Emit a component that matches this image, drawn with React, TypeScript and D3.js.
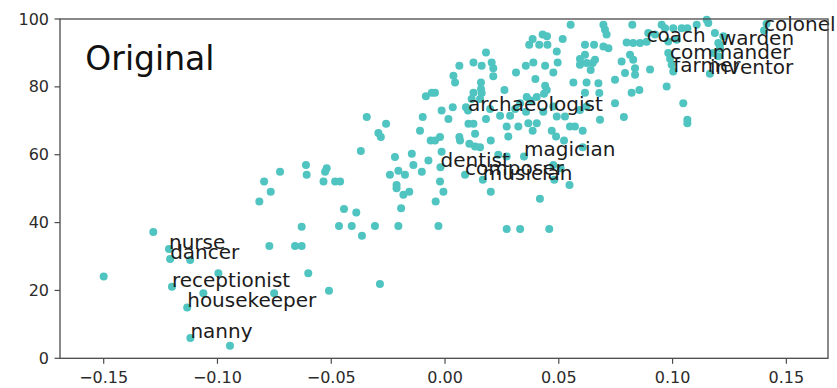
import React from "react";
import * as d3 from "d3";

// Occupation scores: x = projection onto the gender direction, y = score
const pointsX: number[] = [
  -0.150, -0.112, -0.0996, -0.1062, -0.0945, -0.0751, -0.1282, -0.0816, -0.0795, -0.0766,
  -0.0725, -0.0772, -0.0659, -0.063, -0.063, -0.0601, -0.051, -0.0286, -0.0611, -0.0608,
  -0.052, -0.0527, -0.0534, -0.0483, -0.0461, -0.0444, -0.039, -0.0466, -0.041, -0.0308,
  -0.0205, -0.0365, -0.037, -0.022, -0.0146, -0.0139, -0.0073, -0.0102, -0.0205, -0.0176,
  -0.0242, -0.0213, -0.0213, -0.0157, -0.0183, -0.0193, -0.0022, -0.0007, -0.0041, -0.0029,
  0.0201, 0.0271, 0.033, 0.0417, 0.0458, -0.0259, -0.0293, -0.0282, -0.011, -0.0063,
  -0.0044, -0.0022, -0.0015, 0.0063, 0.0066, 0.0107, 0.0132, 0.0154, 0.0103, 0.0125,
  0.0132, 0.0201, 0.0271, 0.0278, 0.0322, 0.0385, 0.0469, 0.0488, 0.0523, 0.0605,
  0.0605, 0.0476, 0.0508, 0.048, 0.0547, 0.0234, 0.0271, -0.0344, -0.0098, -0.0084,
  -0.0058, -0.0044, -0.0015, 0.0034, 0.0015, 0.0037, 0.0044, 0.0063, 0.0125, 0.0161,
  0.018, 0.0205, 0.0212, 0.0212, 0.0158, 0.0158, 0.0125, 0.0161, 0.0117, 0.0154,
  0.0092, 0.0261, 0.0312, 0.0355, 0.0388, 0.0397, 0.044, 0.0476, 0.037, 0.0385,
  0.0414, 0.0429, 0.045, 0.0491, 0.044, 0.0447, 0.0435, 0.0359, 0.0377, 0.033,
  0.0495, 0.0552, 0.0517, 0.0615, 0.0655, 0.0593, 0.0615, 0.0622, 0.0649, 0.0659,
  0.064, 0.0564, 0.0622, 0.0615, 0.0674, 0.0678, 0.0198, 0.0242, 0.0286, 0.0308,
  0.0432, 0.0476, 0.0491, 0.0527, 0.0593, 0.0622, 0.0681, 0.0366, 0.0403, 0.0549,
  0.0571, 0.018, 0.0403, 0.0356, 0.0696, 0.0703, 0.071, 0.0696, 0.0718, 0.0823,
  0.0952, 0.0967, 0.1003, 0.104, 0.1065, 0.1106, 0.115, 0.1157, 0.0923, 0.0981,
  0.1018, 0.0827, 0.0857, 0.0798, 0.1186, 0.1223, 0.1413, 0.1201, 0.1208, 0.1179,
  0.1201, 0.0981, 0.0996, 0.0776, 0.0791, 0.0827, 0.0835, 0.0835, 0.0901, 0.0813,
  0.0747, 0.082, 0.0854, 0.0974, 0.0747, 0.0786, 0.1047, 0.1065, 0.1065, 0.0893,
  0.0593, 0.0448,
];

const pointsY: number[] = [
  24.1, 29.0, 25.1, 19.2, 3.7, 19.2, 37.2, 46.2, 52.1, 49.1,
  55.0, 33.1, 33.1, 33.1, 38.8, 25.1, 19.9, 21.9, 57.0, 54.1,
  56.0, 55.0, 52.1, 52.1, 52.1, 44.0, 43.0, 39.0, 39.0, 39.0,
  39.0, 36.1, 61.1, 59.3, 60.3, 57.0, 58.3, 55.0, 55.3, 54.1,
  54.1, 51.1, 50.1, 49.1, 48.2, 44.2, 52.1, 49.1, 46.2, 39.0,
  49.1, 38.1, 38.1, 47.0, 38.1, 69.1, 66.4, 65.2, 67.1, 64.2,
  64.2, 65.2, 60.9, 65.2, 64.2, 63.2, 62.4, 62.2, 69.1, 69.1,
  66.2, 64.2, 68.3, 65.4, 68.3, 67.1, 67.1, 65.4, 64.2, 67.1,
  62.2, 57.0, 56.0, 52.6, 51.1, 60.0, 59.5, 71.1, 71.1, 77.2,
  78.3, 78.3, 73.0, 74.0, 70.5, 83.3, 81.3, 86.2, 87.2, 86.2,
  90.1, 87.2, 85.5, 83.1, 81.3, 79.4, 78.3, 78.2, 76.4, 76.4,
  74.0, 79.1, 84.2, 86.2, 87.2, 82.3, 86.2, 84.2, 92.4, 94.1,
  92.4, 95.4, 92.4, 90.4, 80.3, 79.1, 78.0, 77.0, 76.0, 75.2,
  87.2, 98.3, 94.1, 92.4, 92.4, 88.2, 89.5, 87.0, 87.0, 88.0,
  85.0, 81.3, 81.3, 78.3, 81.1, 78.2, 73.5, 71.5, 71.5, 73.5,
  72.7, 74.2, 71.3, 71.3, 73.2, 74.2, 70.3, 69.3, 69.3, 68.3,
  68.3, 70.5, 77.0, 72.7, 98.3, 96.8, 95.4, 91.9, 91.4, 98.3,
  98.3, 97.3, 97.3, 97.3, 97.3, 98.3, 99.8, 98.8, 95.4, 93.4,
  93.9, 92.9, 92.9, 93.1, 95.9, 94.9, 98.6, 92.9, 91.4, 90.0,
  89.0, 90.0, 86.5, 87.5, 84.1, 88.0, 85.5, 83.6, 85.1, 89.5,
  82.1, 78.3, 79.1, 80.1, 75.2, 71.1, 75.2, 70.3, 69.3, 95.9,
  86.5, 94.9,
];

// Named occupations, each drawn as a point with its label
const labelNames: string[] = [
  "nurse", "dancer", "receptionist", "housekeeper", "nanny",
  "archaeologist", "dentist", "magician", "composer", "musician",
  "coach", "warden", "commander", "farmer", "inventor", "colonel",
];
const labelX: number[] = [
  -0.1213, -0.1208, -0.120, -0.1133, -0.1119,
  0.0101, -0.002, 0.0347, 0.0088, 0.0166,
  0.0886, 0.1208, 0.0989, 0.1003, 0.1164, 0.1402,
];
const labelY: number[] = [
  32.2, 29.3, 21.1, 15.0, 6.0,
  73.0, 56.3, 59.5, 54.1, 52.6,
  93.3, 92.4, 88.3, 84.5, 83.9, 96.6,
];

const xTicks: number[] = [-0.15, -0.1, -0.05, 0, 0.05, 0.1, 0.15];
const yTicks: number[] = [0, 20, 40, 60, 80, 100];
const title = "Original";

const W = 837;
const H = 388;
const left = 60;
const right = 828;
const top = 19;
const bottom = 358.3;

const FONT = "'DejaVu Sans', sans-serif";
const DOT = "#4fc4c0";
const AXIS = "#4a4a4a";

export default function App() {
  const x = d3.scaleLinear().domain([-0.1692, 0.1683]).range([left, right]);
  const y = d3.scaleLinear().domain([0, 100]).range([bottom, top]);
  const fmtX = (v: number) => d3.format(".2f")(v).replace("-", "\u2212");

  return (
    <svg
      width={W}
      height={H}
      viewBox={`0 0 ${W} ${H}`}
      style={{ position: "absolute", left: 0, top: 0, background: "#ffffff" }}
    >
      {/* points */}
      <g>
        {pointsX.map((v, i) => (
          <circle key={`p${i}`} cx={x(v)} cy={y(pointsY[i])} r={4} fill={DOT} />
        ))}
        {labelX.map((v, i) => (
          <circle key={`lp${i}`} cx={x(v)} cy={y(labelY[i])} r={4} fill={DOT} />
        ))}
      </g>

      {/* labels */}
      <g fontFamily={FONT} fontSize={20} fill="#1c1c1c">
        {labelNames.map((name, i) => (
          <text key={name} x={x(labelX[i])} y={y(labelY[i])}>
            {name}
          </text>
        ))}
      </g>

      {/* title */}
      <text
        x={left + 0.033 * (right - left)}
        y={top + 0.15 * (bottom - top)}
        fontFamily={FONT}
        fontSize={33}
        fill="#111"
      >
        {title}
      </text>

      {/* frame */}
      <rect
        x={left}
        y={top}
        width={right - left}
        height={bottom - top}
        fill="none"
        stroke={AXIS}
        strokeWidth={1.3}
      />

      {/* x axis */}
      <g fontFamily={FONT} fontSize={16} fill="#2b2b2b">
        {xTicks.map((t) => (
          <g key={`xt${t}`}>
            <line x1={x(t)} x2={x(t)} y1={bottom} y2={bottom + 5.5} stroke={AXIS} strokeWidth={1.2} />
            <text x={x(t)} y={bottom + 25} textAnchor="middle">
              {fmtX(t)}
            </text>
          </g>
        ))}
      </g>

      {/* y axis */}
      <g fontFamily={FONT} fontSize={16} fill="#2b2b2b">
        {yTicks.map((t) => (
          <g key={`yt${t}`}>
            <line x1={left - 5.5} x2={left} y1={y(t)} y2={y(t)} stroke={AXIS} strokeWidth={1.2} />
            <text x={left - 11} y={y(t)} textAnchor="end" dominantBaseline="central">
              {t}
            </text>
          </g>
        ))}
      </g>
    </svg>
  );
}
